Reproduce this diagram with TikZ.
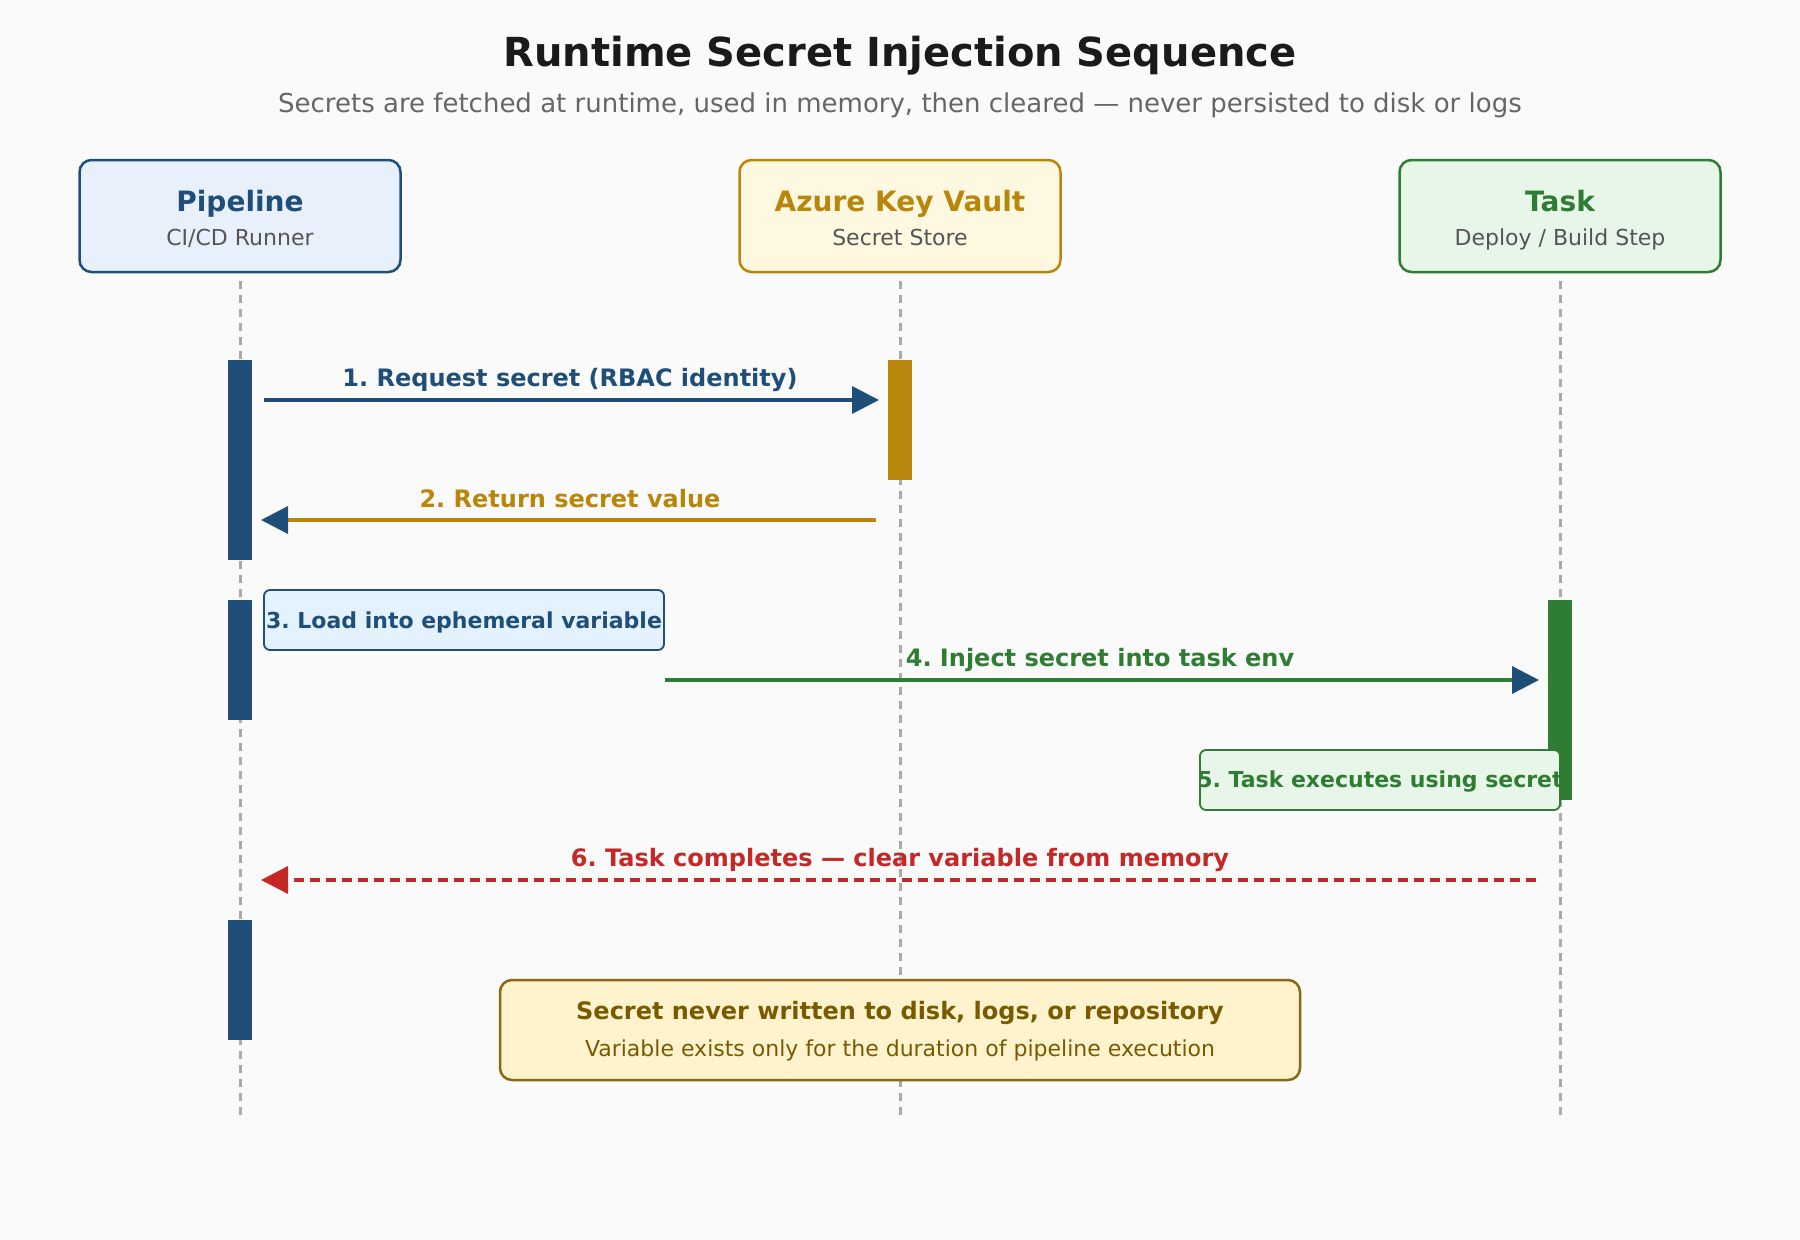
\documentclass[tikz,border=0pt]{standalone}
\usepackage{fontspec}
\setmainfont{DejaVu Sans}
\usetikzlibrary{arrows.meta}
\definecolor{bg}{HTML}{FAFAFA}
\definecolor{pblue}{HTML}{1F4E79}
\definecolor{pbluefill}{HTML}{E8F0FC}
\definecolor{gold}{HTML}{B8860B}
\definecolor{goldfill}{HTML}{FFF8E1}
\definecolor{tgreen}{HTML}{2E7D32}
\definecolor{tgreenfill}{HTML}{E8F5E9}
\definecolor{redsix}{HTML}{C62828}
\definecolor{notefill}{HTML}{E3F2FD}
\definecolor{warnfill}{HTML}{FFF3CD}
\definecolor{warnline}{HTML}{8B6914}
\definecolor{warntext}{HTML}{7A5A00}
\definecolor{titletext}{HTML}{1A1A1A}
\definecolor{subgray}{HTML}{666666}
\definecolor{actorsub}{HTML}{555555}
\definecolor{lifegray}{HTML}{AAAAAA}
\newcommand\fsz[1]{\fontsize{#1}{#1}\selectfont}
\frenchspacing
\tikzset{
  actorbox/.style={draw=#1, line width=2.5pt, rounded corners=12pt, minimum width=321pt, minimum height=112pt, inner sep=0pt},
  actortitle/.style={text=#1, inner sep=0pt, anchor=base, font=\fsz{28}\bfseries},
  actorsubt/.style={text=actorsub, inner sep=0pt, anchor=base, font=\fsz{22}},
  lifeline/.style={draw=lifegray, line width=3pt, dash pattern=on 8pt off 6pt},
  actbar/.style={fill=#1, minimum width=24pt, inner sep=0pt, anchor=north},
  msg/.style={line width=3.5pt, draw=#1},
  msglabel/.style={text=#1, font=\fsz{24}\bfseries, inner sep=0pt},
  notebox/.style={draw=#1, line width=1.8pt, rounded corners=6pt, inner sep=0pt},
  tip/.style={-{Triangle[length=27pt,width=27pt,color=#1]}},
}
\begin{document}
\begin{tikzpicture}[x=1pt,y=-1pt]
\fill[bg] (0,0) rectangle (1800,1240);
\useasboundingbox (0,0) rectangle (1800,1240);

% title
\node[text=titletext, inner sep=0pt] (title) at (900,56) {\fsz{40}\bfseries Runtime Secret Injection Sequence};
\node[text=subgray, inner sep=0pt] (subtitle) at (900,105) {\fsz{26}Secrets are fetched at runtime, used in memory, then cleared — never persisted to disk or logs};

% actors
\node[actorbox=pblue, fill=pbluefill] (pipe) at (240,216) {};
\node[actorbox=gold, fill=goldfill] (vault) at (900,216) {};
\node[actorbox=tgreen, fill=tgreenfill] (task) at (1560,216) {};
\node[actortitle=pblue] (pipeT) at (240,211) {Pipeline};
\node[actorsubt] (pipeS) at (240,245) {CI/CD Runner};
\node[actortitle=gold] (vaultT) at (900,211) {Azure Key Vault};
\node[actorsubt] (vaultS) at (900,245) {Secret Store};
\node[actortitle=tgreen] (taskT) at (1560,211) {Task};
\node[actorsubt] (taskS) at (1560,245) {Deploy / Build Step};

% lifelines
\coordinate (pipeEnd) at (240,1118);
\coordinate (vaultEnd) at (900,1118);
\coordinate (taskEnd) at (1560,1118);
\draw[lifeline] (pipe.south) ++(0,8) -- (pipeEnd);
\draw[lifeline] (vault.south) ++(0,8) -- (vaultEnd);
\draw[lifeline] (task.south) ++(0,8) -- (taskEnd);

% activation bars
\node[actbar=pblue, minimum height=200pt] (bar1) at (240,360) {};
\node[actbar=gold, minimum height=120pt] (vbar) at (900,360) {};
\node[actbar=pblue, minimum height=120pt] (bar2) at (240,600) {};
\node[actbar=tgreen, minimum height=200pt] (tbar) at (1560,600) {};
\node[actbar=pblue, minimum height=120pt] (bar3) at (240,920) {};

% message 1
\coordinate (m1s) at (264,400);
\coordinate (m1e) at (879,400);
\draw[msg=pblue, tip=pblue] (m1s) -- (m1e);
\node[msglabel=pblue] (m1l) at (570,380) {1. Request secret (RBAC identity)};

% message 2
\coordinate (m2s) at (876,520);
\coordinate (m2e) at (261,520);
\draw[msg=gold, tip=pblue] (m2s) -- (m2e);
\node[msglabel=gold] (m2l) at (570,499) {2. Return secret value};

% note 3
\node[notebox=pblue, fill=notefill, minimum width=400pt, minimum height=60pt] (n3) at (464,620) {};
\node[msglabel=pblue, font=\fsz{22}\bfseries] (n3t) at (464,622) {3. Load into ephemeral variable};

% message 4
\coordinate (m4e) at (1539,680);
\draw[msg=tgreen, tip=pblue] (n3.east |- m4e) -- (m4e);
\node[msglabel=tgreen] (m4l) at (1100,660) {4. Inject secret into task env};

% note 5
\node[notebox=tgreen, fill=tgreenfill, minimum width=360pt, minimum height=60pt] (n5) at (1380,780) {};
\node[msglabel=tgreen, font=\fsz{22}\bfseries] (n5t) at (1380,782) {5. Task executes using secret};

% message 6
\coordinate (m6s) at (1536,880);
\coordinate (m6e) at (261,880);
\draw[msg=redsix, tip=redsix, dash pattern=on 10pt off 6pt] (m6s) -- (m6e);
\node[msglabel=redsix] (m6l) at (900,860) {6. Task completes — clear variable from memory};

% bottom note
\node[draw=warnline, fill=warnfill, line width=2.5pt, rounded corners=12pt, minimum width=800pt, minimum height=100pt, inner sep=0pt] (warn) at (900,1030) {};
\node[text=warntext, inner sep=0pt] (warnT) at (900,1013) {\fsz{24}\bfseries Secret never written to disk, logs, or repository};
\node[text=warntext, inner sep=0pt] (warnS) at (900,1050) {\fsz{22}Variable exists only for the duration of pipeline execution};
\end{tikzpicture}
\end{document}
